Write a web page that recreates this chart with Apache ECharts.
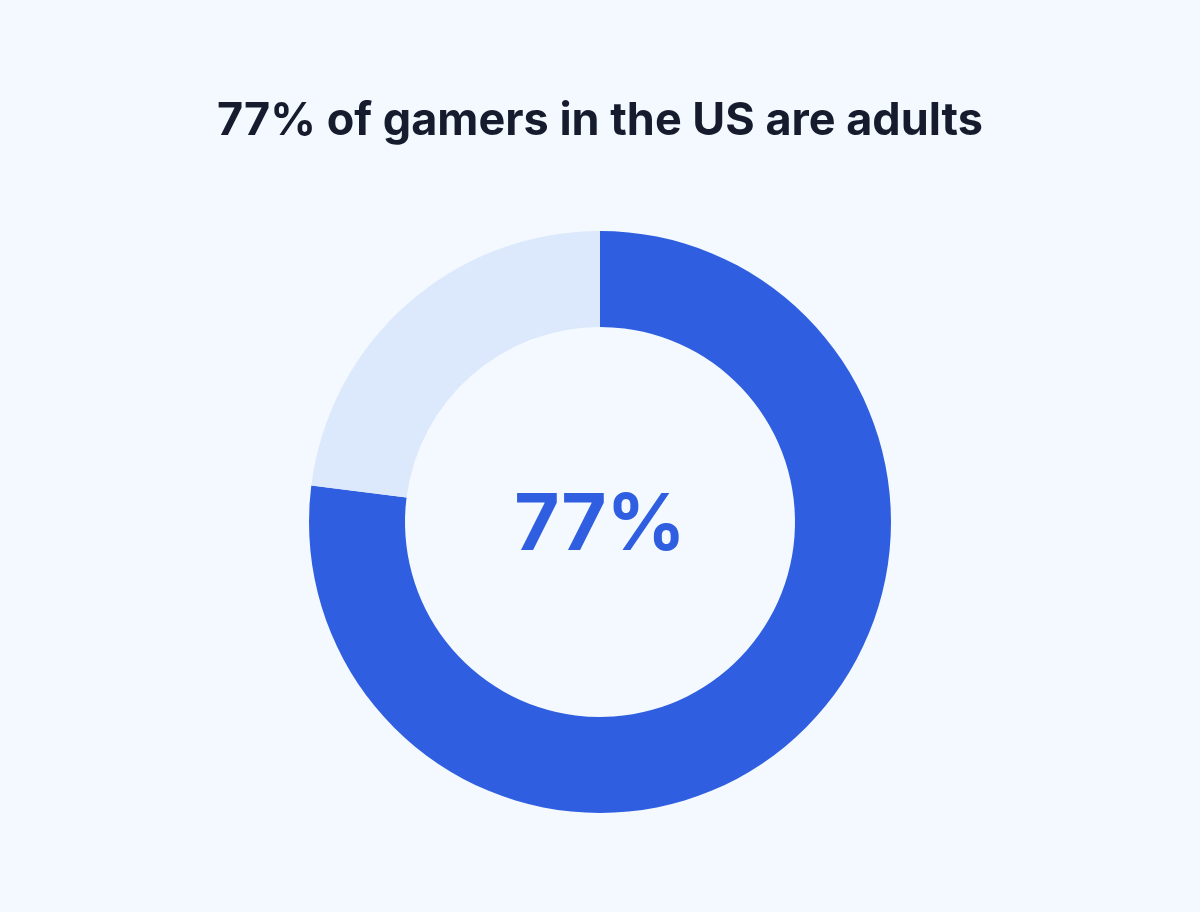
<!DOCTYPE html>
<html>
<head>
<meta charset="utf-8">
<script src="https://cdn.jsdelivr.net/npm/echarts@6/dist/echarts.min.js"></script>
<style>
html, body { margin: 0; padding: 0; background: #f3f9fe; }
#chart { width: 1200px; height: 912px; }
</style>
</head>
<body>
<div id="chart"></div>
<script>
var categories = ['Adults', 'Under 18'];
var shares = [77, 23];
var colors = ['#2f5fe0', '#dce8fb'];

var chart = echarts.init(document.getElementById('chart'));
var option = {
    backgroundColor: '#f3f9fe',
    title: {
        text: '77% of gamers in the US are adults',
        left: 'center',
        top: 94,
        textStyle: {
            fontFamily: 'Inter',
            fontSize: 45,
            fontWeight: 'bold',
            color: '#161c2d'
        }
    },
    graphic: [{
        type: 'text',
        left: 'center',
        top: 488,
        style: {
            text: shares[0] + '%',
            font: 'bold 78px Inter',
            fill: '#2f5fe0'
        }
    }],
    series: [{
        type: 'pie',
        center: [600, 522],
        radius: [195, 291],
        startAngle: 90,
        clockwise: true,
        silent: true,
        label: { show: false },
        labelLine: { show: false },
        data: categories.map(function (c, i) {
            return { name: c, value: shares[i], itemStyle: { color: colors[i] } };
        })
    }]
};
chart.setOption(option, true);
</script>
</body>
</html>
